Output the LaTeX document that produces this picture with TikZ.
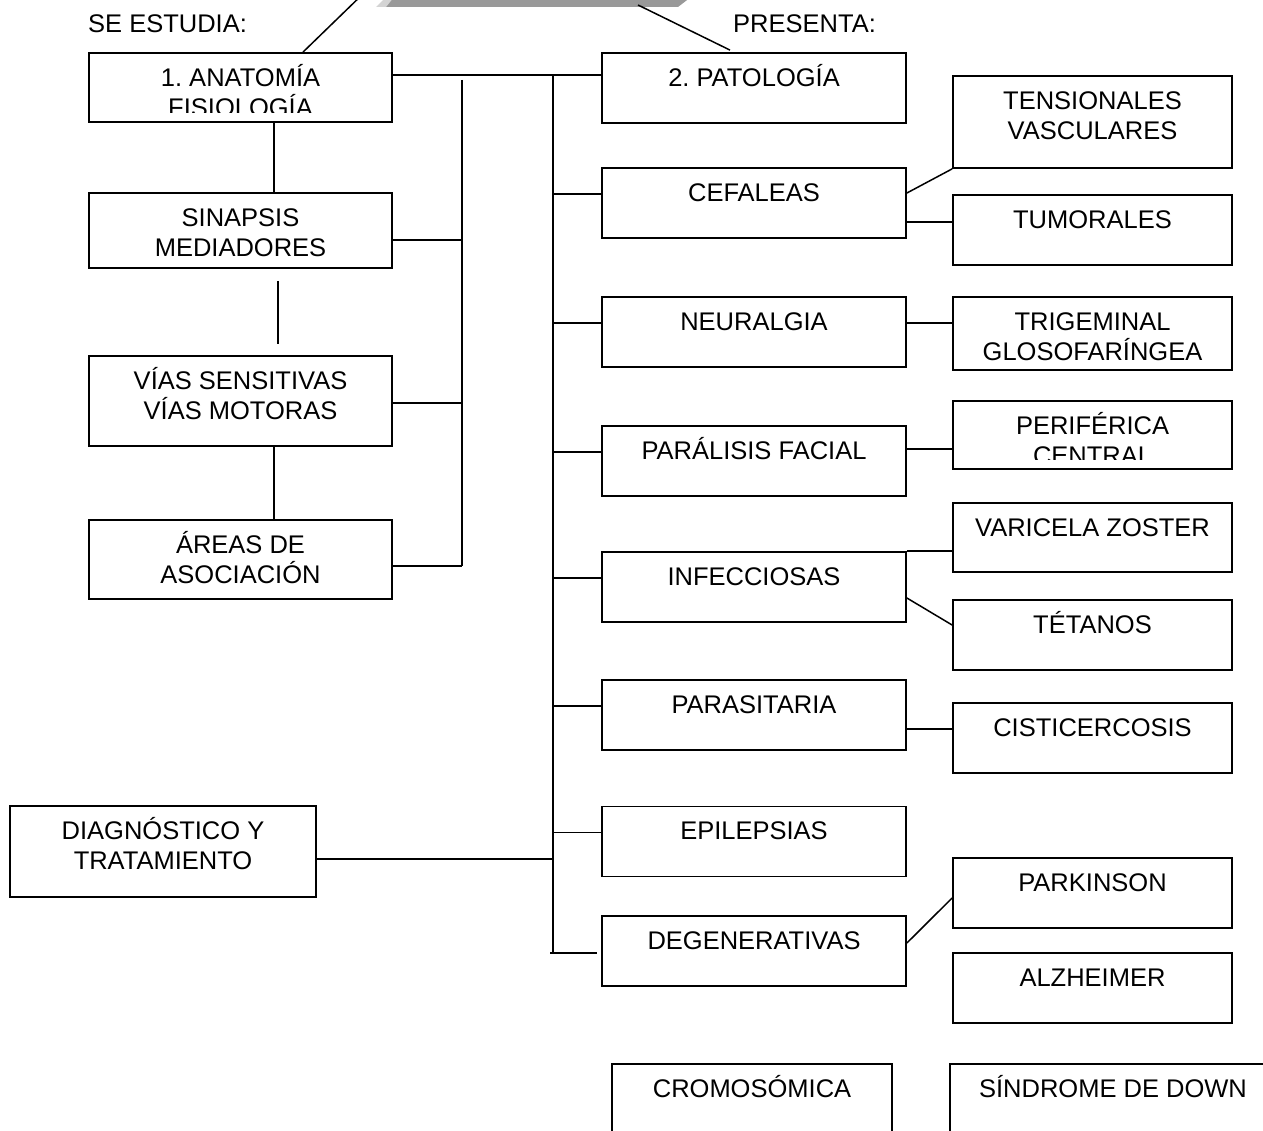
\documentclass[tikz,border=0pt]{standalone}
\usepackage{fontspec}
\setmainfont{Liberation Sans}
\usetikzlibrary{calc}
\definecolor{SombraGris}{HTML}{999999}
\definecolor{BiselGris}{HTML}{D4D4D4}
\frenchspacing

\begin{document}
\begin{tikzpicture}[x=1pt,y=-1pt,
  every node/.style={font=\fontsize{25.5}{30}\selectfont},
  caja/.style={draw, line width=1.8pt, inner sep=0pt, minimum width=#1},
  caja/.default=304pt,
  txt/.style={anchor=base, align=center, inner sep=0pt},
  linea/.style={line width=1.5pt}]
  \useasboundingbox (0,0) rectangle (1263,1131);

  % titulo (cortado arriba)
  \fill[SombraGris] (386,-3) -- (691,-3) -- (678,7) -- (386,7) -- cycle;
  \fill[BiselGris] (376,7) -- (386,-3) -- (394,-3) -- (386,7) -- cycle;
  \coordinate (titSO) at (367,-10);
  \coordinate (titSE) at (638,5);
  \node[anchor=base west, inner sep=0pt] (estudia) at (88,33) {SE ESTUDIA:};
  \node[anchor=base west, inner sep=0pt] (presenta) at (733,33) {PRESENTA:};

  % cajas
  \node[caja=303pt, minimum height=69pt] (anat)  at (240.5,87.5) {};
  \node[caja=303pt, minimum height=75pt] (sinap) at (240.5,230.5) {};
  \node[caja=303pt, minimum height=90pt] (vias)  at (240.5,401) {};
  \node[caja=303pt, minimum height=79pt] (areas) at (240.5,559.5) {};
  \node[caja=306pt, minimum height=91pt] (diag)  at (163,851.5) {};
  \foreach \n/\y in {pato/88,cefa/203,neur/332,paral/461,infe/587,parasit/715,epil/841.5,dege/951}
    \node[caja, minimum height=70pt] (\n) at (754,\y) {};
  \foreach \n/\y/\h in {tens/122/92,tumo/230/70,trig/333.5/73,perif/435/68,vari/537.5/69,teta/635/70,cist/738/70,park/893/70,alzh/988/70}
    \node[caja=279pt, minimum height=\h pt] (\n) at (1092.5,\y) {};
  \node[caja=280pt, minimum height=100pt] (crom) at (752,1114) {};
  \node[caja=326pt, minimum height=100pt] (sind) at (1113,1114) {};

  % textos (una linea)
  \foreach \n/\t in {pato/2. PATOLOGÍA,cefa/CEFALEAS,neur/NEURALGIA,paral/PARÁLISIS FACIAL,infe/INFECCIOSAS,parasit/PARASITARIA,epil/EPILEPSIAS,dege/DEGENERATIVAS,
      tumo/TUMORALES,vari/VARICELA ZOSTER,teta/TÉTANOS,cist/CISTICERCOSIS,park/PARKINSON,alzh/ALZHEIMER,crom/CROMOSÓMICA,sind/SÍNDROME DE DOWN}
    \node[txt] (\n-t) at ([yshift=-34pt]\n.north) {\t};
  % textos (dos lineas, base en la ultima)
  \foreach \n/\t in {sinap/{SINAPSIS\\MEDIADORES},vias/{VÍAS SENSITIVAS\\VÍAS MOTORAS},areas/{ÁREAS DE\\ASOCIACIÓN},diag/{DIAGNÓSTICO Y\\TRATAMIENTO},tens/{TENSIONALES\\VASCULARES}}
    \node[txt] (\n-t) at ([yshift=-64pt]\n.north) {\t};
  \foreach \n/\t in {anat/{1. ANATOMÍA\\FISIOLOGÍA},trig/{TRIGEMINAL\\GLOSOFARÍNGEA},perif/{PERIFÉRICA\\CENTRAL}}{
    \begin{scope}
      \clip (\n.north west) rectangle ([yshift=10pt]\n.south east);
      \node[txt] (\n-t) at ([yshift=-64pt]\n.north) {\t};
    \end{scope}
  }

  % conectores
  \coordinate (izqA) at (462,80);
  \coordinate (izqB) at (462,566);
  \coordinate (derA) at (553,75);
  \coordinate (derB) at (553,953);
  \draw[linea] (izqA) -- (izqB);
  \draw[linea] (derA) -- (derB);
  \draw[linea] ([xshift=62.5pt]anat.north) -- (titSO);
  \draw[linea] (titSE) -- ([xshift=-24pt,yshift=2pt]pato.north);
  \draw[linea] ([xshift=33.5pt]anat.south) -- ([xshift=33.5pt]sinap.north);
  \draw[linea] ([xshift=37.5pt,yshift=-12pt]sinap.south) -- ([xshift=37.5pt,yshift=11pt]vias.north);
  \draw[linea] ([xshift=33.5pt]vias.south) -- ([xshift=33.5pt]areas.north);
  \draw[linea] ([yshift=12.5pt]anat.east) -- ([yshift=12.5pt]anat.east -| pato.west);
  \draw[linea] ([yshift=-9.5pt]sinap.east) -- ([yshift=-9.5pt]sinap.east -| izqA);
  \draw[linea] ([yshift=-2pt]vias.east) -- ([yshift=-2pt]vias.east -| izqA);
  \draw[linea] (areas.east |- izqB) -- (izqB);
  \foreach \n in {cefa,neur,paral,infe,parasit,epil}
    \draw[linea] ([yshift=9pt]\n.west) -- ([yshift=9pt]\n.west -| derA);
  \draw[linea] ([xshift=-3pt]derB) -- ([xshift=-4pt]dege.west |- derB);
  \draw[linea] ([yshift=-7.5pt]diag.east) -- ([yshift=-7.5pt]diag.east -| derA);
  \draw[linea] ([yshift=10pt]cefa.east) -- (tens.south west);
  \draw[linea] ([yshift=8pt]tumo.west -| cefa.east) -- ([yshift=8pt]tumo.west);
  \draw[linea] ([yshift=9pt]neur.east) -- ([yshift=9pt]neur.east -| trig.west);
  \draw[linea] ([yshift=12pt]paral.east) -- ([yshift=12pt]paral.east -| perif.west);
  \draw[linea] (infe.north east) -- (infe.north east -| vari.west);
  \draw[linea] ([yshift=-11pt]infe.east) -- ([yshift=10pt]teta.west);
  \draw[linea] ([yshift=9pt]cist.west -| parasit.east) -- ([yshift=9pt]cist.west);
  \draw[linea] ([yshift=8pt]dege.east) -- ([yshift=-5pt]park.west);
\end{tikzpicture}
\end{document}
